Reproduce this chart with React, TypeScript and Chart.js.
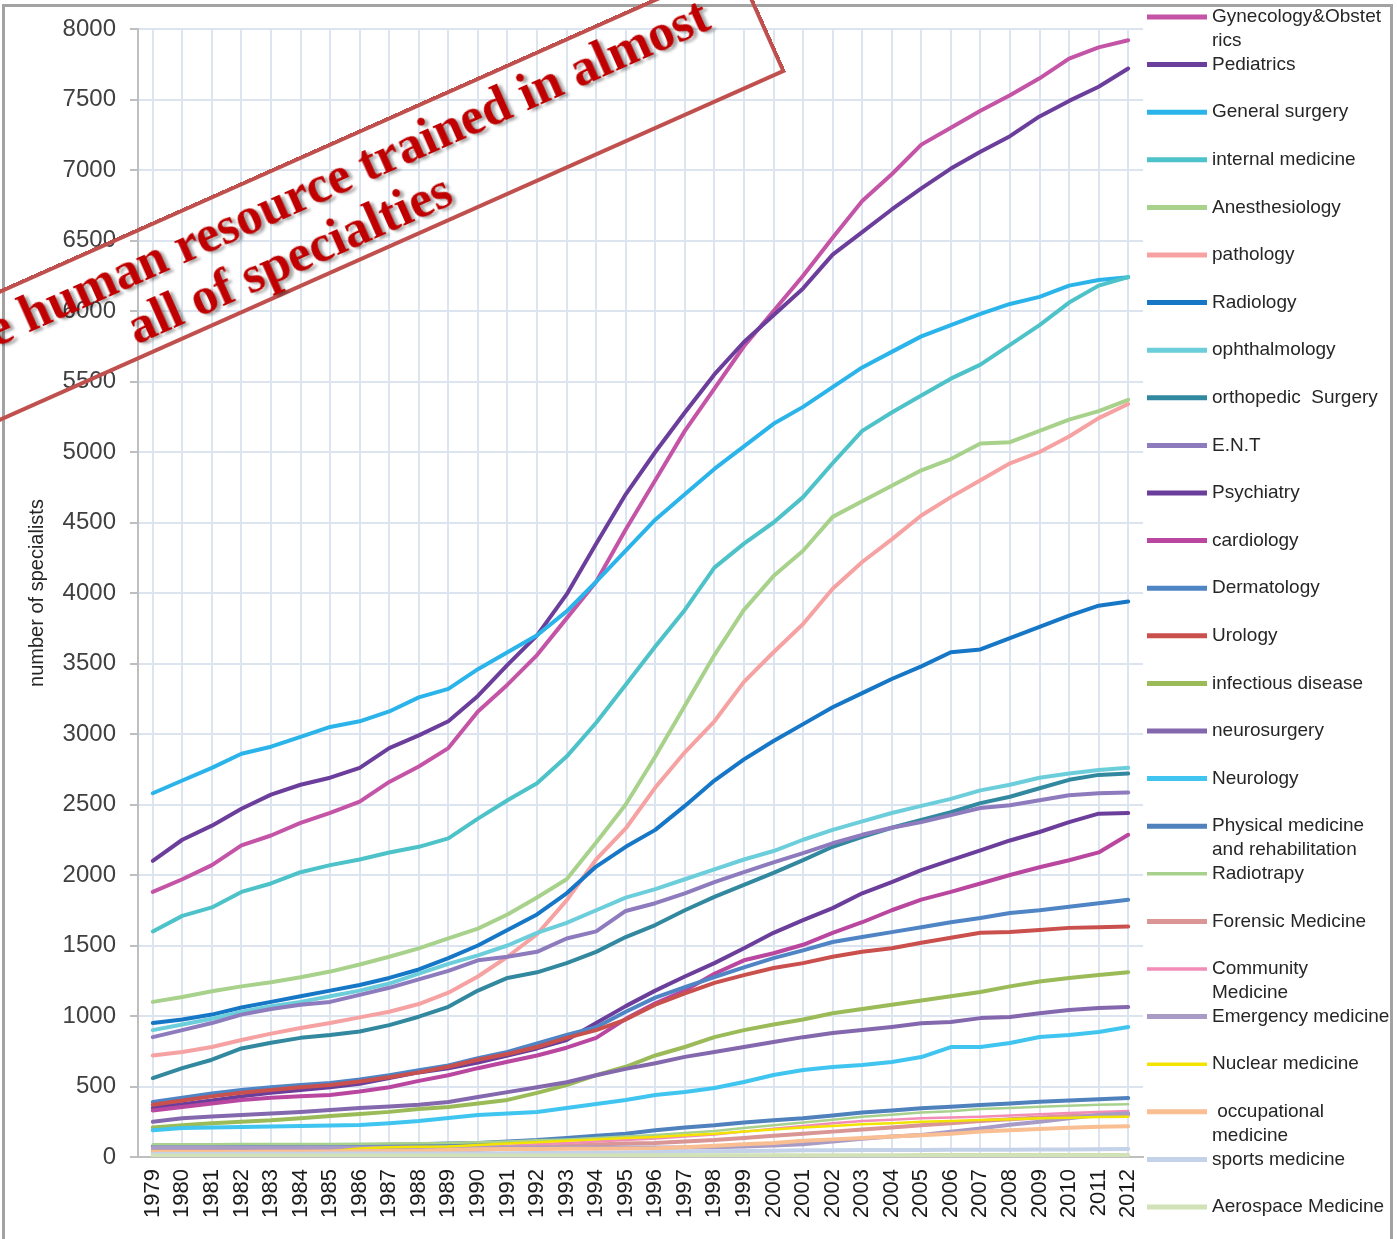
import React, { useEffect, useRef } from 'react';
import { Chart, registerables } from 'chart.js';

Chart.register(...registerables);

const years = ['1979','1980','1981','1982','1983','1984','1985','1986','1987','1988','1989','1990','1991','1992','1993','1994','1995','1996','1997','1998','1999','2000','2001','2002','2003','2004','2005','2006','2007','2008','2009','2010','2011','2012'];

const yTickStep = 500;
const yMax = 8000;

const gynecology = [1880,1970,2070,2210,2280,2370,2440,2520,2660,2770,2900,3160,3350,3560,3820,4080,4450,4800,5150,5450,5750,6000,6250,6520,6780,6970,7180,7300,7420,7530,7650,7790,7870,7920];
const pediatrics = [2100,2250,2350,2470,2570,2640,2690,2760,2900,2990,3090,3270,3490,3700,3990,4350,4700,5000,5280,5550,5780,5970,6160,6400,6560,6720,6870,7010,7130,7240,7380,7490,7590,7720];
const generalSurgery = [2580,2670,2760,2860,2910,2980,3050,3090,3160,3260,3320,3460,3580,3700,3870,4080,4300,4520,4700,4880,5040,5200,5320,5460,5600,5710,5820,5900,5980,6050,6100,6180,6220,6240];
const internalMedicine = [1600,1710,1770,1880,1940,2020,2070,2110,2160,2200,2260,2400,2530,2650,2840,3080,3350,3620,3880,4180,4350,4500,4680,4920,5150,5280,5400,5520,5620,5760,5900,6060,6180,6240];
const anesthesiology = [1100,1135,1175,1210,1240,1275,1315,1365,1420,1480,1550,1620,1720,1840,1970,2230,2500,2840,3200,3560,3880,4120,4300,4540,4650,4760,4870,4950,5060,5070,5150,5230,5290,5370];
const pathology = [720,745,780,830,875,915,950,990,1030,1085,1165,1280,1420,1580,1820,2110,2330,2620,2870,3090,3370,3580,3780,4030,4220,4380,4550,4680,4800,4920,5000,5110,5240,5340];
const radiology = [950,975,1010,1060,1100,1140,1180,1220,1270,1330,1410,1500,1610,1720,1870,2060,2200,2320,2490,2670,2820,2950,3070,3190,3290,3390,3480,3580,3600,3680,3760,3840,3910,3940];
const ophthalmology = [900,940,980,1030,1070,1100,1140,1180,1230,1300,1370,1430,1500,1590,1660,1750,1840,1900,1970,2040,2110,2170,2250,2320,2380,2440,2490,2540,2600,2640,2690,2720,2745,2760];
const orthopedic = [560,630,690,770,810,845,865,890,935,995,1065,1180,1270,1310,1375,1455,1560,1645,1750,1845,1930,2015,2105,2200,2270,2335,2390,2445,2510,2555,2615,2675,2710,2720];
const ent = [850,900,950,1010,1050,1080,1100,1150,1200,1260,1320,1395,1420,1455,1550,1600,1745,1800,1870,1950,2020,2090,2155,2225,2285,2335,2375,2425,2475,2495,2530,2565,2580,2585];
const psychiatry = [350,375,400,430,455,475,495,520,560,600,630,670,720,770,830,950,1070,1180,1280,1375,1480,1590,1680,1765,1870,1950,2035,2105,2175,2245,2305,2375,2435,2440];
const cardiology = [330,355,380,405,420,430,440,465,495,540,580,630,675,720,775,845,980,1090,1180,1300,1395,1445,1505,1590,1665,1750,1825,1880,1940,2000,2055,2105,2160,2285];
const dermatology = [390,420,450,475,495,510,525,550,580,615,650,700,745,805,865,920,1030,1130,1205,1275,1345,1410,1465,1525,1560,1595,1630,1665,1695,1730,1750,1775,1800,1825];
const urology = [370,400,430,455,475,495,510,535,565,600,640,690,730,780,845,900,975,1080,1160,1235,1290,1340,1375,1420,1455,1480,1520,1555,1590,1595,1610,1625,1630,1635];
const infectious = [210,225,240,250,260,275,290,305,320,340,355,380,405,455,510,580,640,720,780,850,900,940,975,1020,1050,1080,1110,1140,1170,1210,1245,1270,1290,1310];
const neurosurgery = [250,275,288,298,308,320,333,347,358,370,390,425,460,495,530,580,625,665,710,745,780,815,850,880,900,922,948,957,985,993,1020,1043,1057,1064];
const neurology = [190,205,210,213,216,220,223,227,240,255,276,298,308,319,347,376,404,440,461,489,532,582,617,638,652,674,709,780,780,808,851,865,887,922];
const physicalMedicine = [75,75,76,77,78,80,82,84,86,90,95,100,110,120,135,150,165,190,210,225,245,260,275,295,315,330,345,357,369,380,392,400,409,418];
const radiotherapy = [90,90,91,92,92,93,93,94,95,97,100,104,110,118,125,135,145,156,170,185,205,225,245,265,286,300,315,325,340,348,357,363,370,374];
const forensic = [47,47,47,47,47,48,48,48,49,49,50,50,60,70,80,88,95,100,110,120,135,150,165,180,195,210,225,240,255,268,280,290,296,300];
const community = [40,40,41,41,42,42,45,50,55,60,66,73,80,90,100,110,120,132,145,160,180,200,220,240,255,265,274,280,286,295,303,312,320,326];
const emergency = [68,68,68,68,68,68,68,68,68,68,68,68,68,68,68,68,68,68,68,70,75,82,90,110,130,145,156,180,203,228,250,275,298,310];
const nuclear = [40,40,40,40,40,40,40,60,70,72,75,85,95,105,115,125,135,142,155,165,180,195,210,220,232,240,250,256,262,268,274,278,283,286];
const occupational = [35,35,36,36,37,38,39,40,42,45,50,55,56,57,58,59,60,62,70,80,90,100,115,125,135,145,155,165,180,190,199,207,215,218];
const sports = [22,22,22,23,23,23,24,24,24,25,25,26,27,28,29,30,32,35,38,40,42,45,47,48,49,50,50,51,52,52,53,54,55,56];
const aerospace = [10,10,10,10,10,10,10,10,10,10,10,11,11,11,11,11,12,12,12,12,12,13,13,13,13,13,14,14,14,14,14,15,15,15];

const seriesNames = [
  'Gynecology&Obstet\nrics',
  'Pediatrics',
  'General surgery',
  'internal medicine',
  'Anesthesiology',
  'pathology',
  'Radiology',
  'ophthalmology',
  'orthopedic  Surgery',
  'E.N.T',
  'Psychiatry',
  'cardiology',
  'Dermatology',
  'Urology',
  'infectious disease',
  'neurosurgery',
  'Neurology',
  'Physical medicine\nand rehabilitation',
  'Radiotrapy',
  'Forensic Medicine',
  'Community\nMedicine',
  'Emergency medicine',
  'Nuclear medicine',
  ' occupational\nmedicine',
  'sports medicine',
  'Aerospace Medicine',
];

const seriesValues = [
  gynecology, pediatrics, generalSurgery, internalMedicine, anesthesiology, pathology,
  radiology, ophthalmology, orthopedic, ent, psychiatry, cardiology, dermatology, urology,
  infectious, neurosurgery, neurology, physicalMedicine, radiotherapy, forensic, community,
  emergency, nuclear, occupational, sports, aerospace,
];

const seriesColors = [
  '#C454A6', '#6B3E9C', '#2BB4EA', '#4DC2C8', '#A8D28C', '#F6A2A2',
  '#1677C6', '#6DCEDB', '#32899F', '#8D7BBE', '#6B3E9C', '#B9479F', '#4F84C5', '#C9504D',
  '#9BBB59', '#8468AD', '#3FC5F0', '#4F81BD', '#A9D18E', '#D99694', '#F28DB8',
  '#A89CC6', '#F2E400', '#F9BE92', '#C3D2E8', '#D2E2B8',
];

const seriesWidths = [
  4, 4, 4, 4, 4, 4, 4, 4, 4, 4, 4, 4, 4, 4, 4, 4, 4, 4, 2.5, 4, 2.5, 4, 2.5, 4, 4, 4,
];

const FONT = '"Liberation Sans", Arial, sans-serif';

const sideLegend = {
  id: 'sideLegend',
  afterDraw(chart: any) {
    const ctx = chart.ctx;
    const area = chart.chartArea;
    const x0 = area.right + 4;
    const step = 47.6;
    ctx.save();
    chart.data.datasets.forEach((ds: any, i: number) => {
      const y = 17 + i * step;
      ctx.strokeStyle = ds.borderColor;
      ctx.lineWidth = ds.borderWidth + 1;
      ctx.lineCap = 'butt';
      ctx.beginPath();
      ctx.moveTo(x0, y);
      ctx.lineTo(x0 + 60, y);
      ctx.stroke();
      ctx.fillStyle = '#262626';
      ctx.font = '19px ' + FONT;
      ctx.textBaseline = 'middle';
      ctx.textAlign = 'left';
      String(ds.label).split('\n').forEach((line: string, j: number) => {
        ctx.fillText(line, x0 + 65, y + j * 24);
      });
    });
    ctx.restore();
  },
};

export default function App() {
  const canvasRef = useRef<HTMLCanvasElement | null>(null);

  useEffect(() => {
    if (!canvasRef.current) return;
    const n = seriesNames.length;
    const chart = new Chart(canvasRef.current, {
      type: 'line',
      data: {
        labels: years,
        datasets: seriesNames.map((name, i) => ({
          label: name,
          data: seriesValues[i],
          borderColor: seriesColors[i],
          backgroundColor: seriesColors[i],
          borderWidth: seriesWidths[i],
          pointRadius: 0,
          fill: false,
          tension: 0,
          order: n - i,
        })),
      },
      options: {
        animation: false,
        responsive: false,
        maintainAspectRatio: false,
        layout: { padding: { left: 0, right: 254, top: 29, bottom: 0 } },
        plugins: {
          legend: { display: false },
          tooltip: { enabled: false },
        },
        elements: {
          line: { borderJoinStyle: 'round', borderCapStyle: 'round' },
          point: { radius: 0 },
        },
        scales: {
          x: {
            offset: true,
            grid: { color: '#DCE4EF', lineWidth: 2, drawTicks: false, offset: false },
            border: { color: '#BFBFBF', width: 2 },
            ticks: {
              autoSkip: false,
              minRotation: 90,
              maxRotation: 90,
              padding: 12,
              color: '#1a1a1a',
              font: { size: 22, family: FONT },
            },
            afterFit: (s: any) => { s.height = 82; },
          },
          y: {
            min: 0,
            max: yMax,
            ticks: {
              stepSize: yTickStep,
              padding: 14,
              color: '#404040',
              font: { size: 24, family: FONT },
              callback: (v: any) => String(v),
            },
            grid: { color: '#DCE4EF', lineWidth: 2, tickLength: 8, tickColor: '#BFBFBF' },
            border: { color: '#BFBFBF', width: 2 },
            title: {
              display: true,
              text: 'number of specialists',
              color: '#262626',
              font: { size: 20, family: FONT },
              padding: { top: 25, bottom: 0 },
            },
            afterFit: (s: any) => { s.width = 138; },
          },
        },
      },
      plugins: [sideLegend],
    });
    return () => chart.destroy();
  }, []);

  return (
    <div style={{ position: 'absolute', left: 0, top: 0, width: 1397, height: 1239, overflow: 'hidden', background: '#fff' }}>
      <div style={{ position: 'absolute', left: 2, top: 4, width: 1391, height: 1300, border: '3px solid #A3A3A3', boxSizing: 'border-box' }} />
      <canvas ref={canvasRef} width={1397} height={1239} style={{ position: 'absolute', left: 0, top: 0, display: 'block' }} />
      <div
        style={{
          position: 'absolute',
          left: 786 - 1150,
          top: 72 - 121,
          width: 1150,
          height: 121,
          border: '4px solid #C0504D',
          boxSizing: 'border-box',
          transformOrigin: '100% 100%',
          transform: 'rotate(-24deg)',
          pointerEvents: 'none',
        }}
      >
        <div style={{ position: 'absolute', right: 45, bottom: 57, font: 'bold 52px "Liberation Serif", "Times New Roman", serif', lineHeight: '52px', color: '#C00000', whiteSpace: 'nowrap', textShadow: '3px 3px 3px rgba(0,0,0,0.35)' }}>
          The human resource trained in almost
        </div>
        <div style={{ position: 'absolute', right: 351, bottom: 2, font: 'bold 52px "Liberation Serif", "Times New Roman", serif', lineHeight: '52px', color: '#C00000', whiteSpace: 'nowrap', textShadow: '3px 3px 3px rgba(0,0,0,0.35)' }}>
          all of specialties
        </div>
      </div>
    </div>
  );
}
